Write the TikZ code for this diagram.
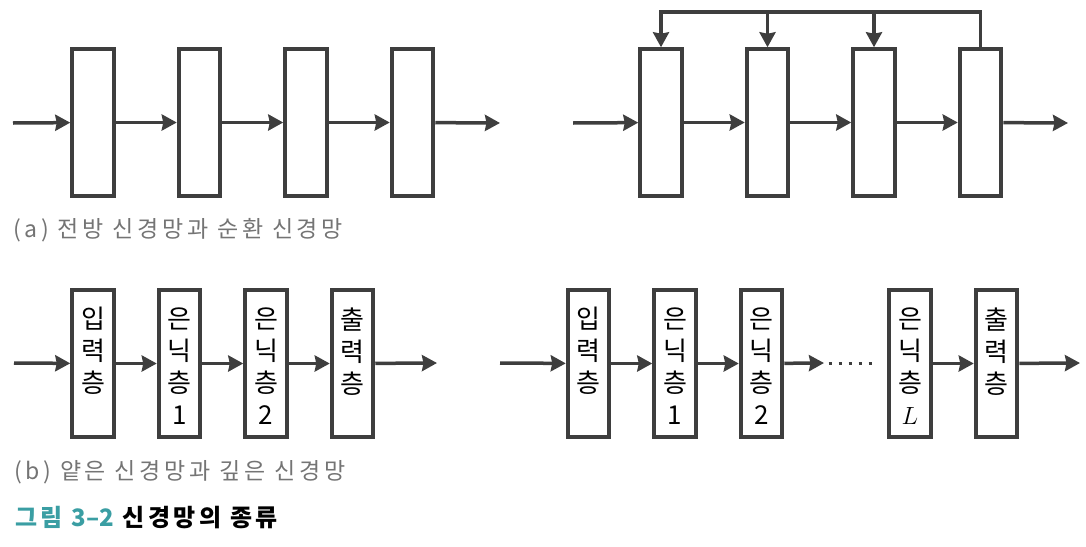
\documentclass[tikz,border=0pt]{standalone}
\usepackage{fontspec}
\setmainfont{Noto Sans CJK KR}
\usetikzlibrary{positioning, arrows.meta}
\definecolor{linegray}{HTML}{3E3E3E}
\definecolor{capgray}{HTML}{747474}
\definecolor{figteal}{HTML}{3A9EA3}

\begin{document}
\begin{tikzpicture}[
        x=1pt, y=-1pt,
        node distance=61pt,
        layer/.style={draw=linegray, line width=4pt, rectangle, minimum width=41.5pt, minimum height=146.5pt, inner sep=0pt},
        flow/.style={draw=linegray, line width=3.5pt, -{Triangle[length=15pt, width=16pt, inset=1.5pt]}},
        tag/.style={anchor=north, font=\fontsize{26}{32}\selectfont, align=center, inner sep=0pt, yshift=-19pt},
        caption/.style={anchor=west, font=\fontsize{23}{26}\selectfont\addfontfeature{LetterSpace=16}, text=capgray, inner sep=0pt}
    ]
    \useasboundingbox (0,0) rectangle (1086,546);

    % (a) feed-forward
    \node[layer] (f1) at (93,122.5) {};
    \node[layer, right=of f1] (f2) {};
    \node[layer, right=of f2] (f3) {};
    \node[layer, right=of f3] (f4) {};
    \coordinate (fin) at (13,123);
    \coordinate (fout) at (500,123);
    \draw[flow] (fin) -- (f1);
    \draw[flow] (f1) -- (f2);
    \draw[flow] (f2) -- (f3);
    \draw[flow] (f3) -- (f4);
    \draw[flow] (f4) -- (fout);

    % (a) recurrent
    \node[layer] (r1) at (661,122.5) {};
    \node[layer, right=of r1] (r2) {};
    \node[layer, right=of r2] (r3) {};
    \node[layer, right=of r3] (r4) {};
    \coordinate (rin) at (573,123);
    \coordinate (rout) at (1068,123);
    \coordinate (loop) at (0,12);
    \draw[flow] (rin) -- (r1);
    \draw[flow] (r1) -- (r2);
    \draw[flow] (r2) -- (r3);
    \draw[flow] (r3) -- (r4);
    \draw[flow] (r4) -- (rout);
    \draw[flow] (r4.north) |- (r1.north |- loop) -- (r1.north);
    \draw[flow] (r2.north |- loop) -- (r2.north);
    \draw[flow] (r3.north |- loop) -- (r3.north);

    \node[caption] (capa) at (13,230) {(a) 전방 신경망과 순환 신경망};

    % (b) shallow
    \node[layer, label={[tag]north:입\\력\\층}] (s1) at (93,363.5) {};
    \node[layer, right=41pt of s1, label={[tag]north:은\\닉\\층\\1}] (s2) {};
    \node[layer, right=41pt of s2, label={[tag]north:은\\닉\\층\\2}] (s3) {};
    \node[layer, right=41pt of s3, label={[tag]north:출\\력\\층}] (s4) {};
    \coordinate (sin) at (14,363);
    \coordinate (sout) at (437,363);
    \draw[flow] (sin) -- (s1);
    \draw[flow] (s1) -- (s2);
    \draw[flow] (s2) -- (s3);
    \draw[flow] (s3) -- (s4);
    \draw[flow] (s4) -- (sout);

    % (b) deep
    \node[layer, label={[tag]north:입\\력\\층}] (d1) at (588.5,363.5) {};
    \node[layer, right=41pt of d1, label={[tag]north:은\\닉\\층\\1}] (d2) {};
    \node[layer, right=41pt of d2, label={[tag]north:은\\닉\\층\\2}] (d3) {};
    \node[layer, label={[tag]north:은\\닉\\층\\$L$}] (dL) at (910,363.5) {};
    \node[layer, right=41pt of dL, label={[tag]north:출\\력\\층}] (d4) {};
    \coordinate (din) at (500,363);
    \coordinate (dgap) at (824,363);
    \coordinate (dotl) at (828.5,363);
    \coordinate (dotr) at (872,363);
    \coordinate (dout) at (1080,363);
    \draw[flow] (din) -- (d1);
    \draw[flow] (d1) -- (d2);
    \draw[flow] (d2) -- (d3);
    \draw[flow] (d3) -- (dgap);
    \draw[linegray, line width=3pt, dash pattern=on 3pt off 7pt] (dotl) -- (dotr);
    \draw[flow] (dL) -- (d4);
    \draw[flow] (d4) -- (dout);

    \node[caption] (capb) at (14,472) {(b) 얕은 신경망과 깊은 신경망};

    \node[caption, font=\fontsize{24}{27}\selectfont\bfseries\addfontfeature{LetterSpace=14}, text=black] (fig) at (15,518)
        {\textcolor{figteal}{그림 {\addfontfeature{LetterSpace=0}3–2}} 신경망의 종류};
\end{tikzpicture}
\end{document}
